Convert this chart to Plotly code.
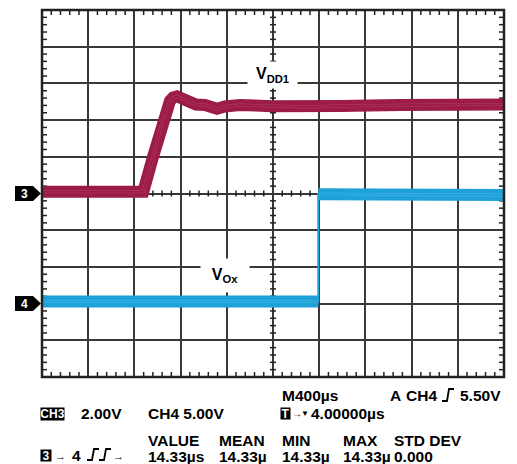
import plotly.graph_objects as go

# ---------------- data ----------------
# CH3 : V_DD1  (time in µs, value in volts)
ch3_t = [-2000, -1123, -1039, -955, -918, -892, -866, -831, -788, -736, -667, -589,
         -485, -416, -286, 0, 294, 580, 1100, 1620, 2000]
ch3_v = [0.1, 0.1, 1.99, 4.0, 4.66, 5.04, 5.23, 5.29, 5.18, 4.99, 4.85, 4.82,
         4.62, 4.74, 4.82, 4.76, 4.72, 4.77, 4.82, 4.85, 4.85]
# CH4 : V_Ox
ch4_t = [-2000, -1000, 0, 392, 392, 420, 1000, 2000]
ch4_v = [0.3, 0.3, 0.3, 0.3, 14.9, 14.9, 14.8, 14.8]

# scope settings
ch3_scale = 2.0      # V/div
ch4_scale = 5.0      # V/div
ch3_pos = 0.0        # div
ch4_pos = -3.0       # div
time_div = 400       # µs/div
n_xdiv = 10
n_ydiv = 10
n_minor = 5

# readout texts
row1 = [("M400µs", 281), ("A", 389), ("CH4", 405), ("5.50V", 459)]
row2_left = [("2.00V", 80), ("CH4 5.00V", 147)]
meas_heads = ["VALUE", "MEAN", "MIN", "MAX", "STD DEV"]
meas_vals = ["14.33µs", "14.33µ", "14.33µ", "14.33µ", "0.000"]
meas_x = [147, 218, 281, 342, 393]

# ---------------- geometry ----------------
W, H = 517, 464
PL, PR, PT, PB = 42, 504, 10, 377
xmin, xmax = -time_div * n_xdiv / 2, time_div * n_xdiv / 2
ymin, ymax = -n_ydiv / 2, n_ydiv / 2
ux = (xmax - xmin) / (PR - PL)   # data units per pixel
uy = (ymax - ymin) / (PB - PT)

RED = "#9c1c47"
RED_L = "rgba(205,105,140,0.45)"
BLUE = "#1da1d8"
BLUE_L = "rgba(130,205,240,0.5)"
GRID = "#383838"
FONT = "Liberation Sans"
FS = 15.5

def px(x):
    return (x - PL) / (PR - PL)

def py(y):
    return (PB - y) / (PB - PT)

fig = go.Figure()

# ---------------- minor ticks ----------------
tx, ty = [], []
xs_minor = [xmin + i * time_div / n_minor for i in range(n_xdiv * n_minor + 1) if i % n_minor]
ys_minor = [ymin + i / n_minor for i in range(n_ydiv * n_minor + 1) if i % n_minor]
L = 5
C = 3
for x in xs_minor:
    tx += [x, x, None, x, x, None, x, x, None]
    ty += [ymax, ymax - L * uy, None, ymin, ymin + L * uy, None, -C * uy, C * uy, None]
for y in ys_minor:
    tx += [xmin, xmin + L * ux, None, xmax, xmax - L * ux, None, -C * ux, C * ux, None]
    ty += [y, y, None, y, y, None, y, y, None]
fig.add_trace(go.Scatter(x=tx, y=ty, mode="lines", line=dict(color="#222", width=1.5),
                         hoverinfo="skip", showlegend=False))

# ---------------- traces ----------------
def band(t, v, scale, pos, color, light):
    y = [vv / scale + pos for vv in v]
    # thick noise band, broken at vertical jumps
    bt, by = [], []
    for i in range(len(t)):
        if i > 0 and t[i] == t[i - 1]:
            bt.append(None); by.append(None)
        bt.append(t[i]); by.append(y[i])
    fig.add_trace(go.Scatter(x=bt, y=by, mode="lines", line=dict(color=color, width=12),
                             hoverinfo="skip", showlegend=False))
    fig.add_trace(go.Scatter(x=bt, y=by, mode="lines", line=dict(color=light, width=3),
                             hoverinfo="skip", showlegend=False))
    fig.add_trace(go.Scatter(x=t, y=y, mode="lines", line=dict(color=color, width=2),
                             hoverinfo="skip", showlegend=False))

band(ch3_t, ch3_v, ch3_scale, ch3_pos, RED, RED_L)
band(ch4_t, ch4_v, ch4_scale, ch4_pos, BLUE, BLUE_L)

shapes = []
# border
shapes.append(dict(type="rect", xref="paper", yref="paper", x0=0, x1=1, y0=0, y1=1,
                   line=dict(color="#222", width=2.5), layer="above"))

# channel markers
def marker(ypix):
    return (f"M{px(15)},{py(ypix-7.5)} L{px(33)},{py(ypix-7.5)} L{px(41)},{py(ypix)} "
            f"L{px(33)},{py(ypix+7.5)} L{px(15)},{py(ypix+7.5)} Z")

y3 = PT + (ymax - ch3_pos) / uy
y4 = PT + (ymax - ch4_pos) / uy
for yy in (y3, y4):
    shapes.append(dict(type="path", xref="paper", yref="paper", path=marker(yy),
                       fillcolor="black", line=dict(width=0)))

# edge symbols
def edge(x0, ybot, ytop):
    return (f"M{px(x0)},{py(ybot)} L{px(x0+5)},{py(ybot)} L{px(x0+7)},{py(ytop)} "
            f"L{px(x0+12)},{py(ytop)}")

for (x0, yb, yt) in [(442, 401, 389), (87, 460, 449), (99, 460, 449)]:
    shapes.append(dict(type="path", xref="paper", yref="paper", path=edge(x0, yb, yt),
                       line=dict(color="black", width=1.8)))

anns = []

def ann(text, x, y, size=FS, color="black", bg=None, xanchor="left", w=None, h=None):
    d = dict(text=text, x=px(x), y=py(y), xref="paper", yref="paper",
             xanchor=xanchor, yanchor="middle", showarrow=False,
             font=dict(family=FONT, size=size, color=color, weight="bold"), borderpad=0)
    if bg:
        d["bgcolor"] = bg
    if w:
        d["width"] = w
    if h:
        d["height"] = h
    anns.append(d)

# signal labels
ann("V<sub>DD1</sub>", 272.5, 75, size=16, bg="white", xanchor="center", w=49, h=26)
ann("V<sub>Ox</sub>", 224.5, 275.5, size=16, bg="white", xanchor="center", w=48, h=33)

# channel marker numbers
ann("3", 24, y3, size=12, color="white", xanchor="center")
ann("4", 24, y4, size=12, color="white", xanchor="center")

# readouts
for txt, x in row1:
    ann(txt, x, 395)
ann("CH3", 52, 413.5, size=12, color="white", bg="black", xanchor="center", w=23, h=12)
for txt, x in row2_left:
    ann(txt, x, 413.5)
ann("T", 285, 413.5, size=12, color="white", bg="black", xanchor="center", w=9, h=11)
ann("→", 290.5, 413.5, size=10)
ann("▼", 300, 413.5, size=8)
ann("4.00000µs", 310, 413.5)
for txt, x in zip(meas_heads, meas_x):
    ann(txt, x, 440)
for txt, x in zip(meas_vals, meas_x):
    ann(txt, x, 456)
ann("3", 45.7, 455.7, size=12, color="white", bg="black", xanchor="center", w=10, h=11)
ann("→", 54, 455.7, size=11)
ann("4", 71, 455.7)
ann("→", 112, 455.7, size=11)

fig.update_layout(
    width=W, height=H,
    margin=dict(l=PL, r=W - PR, t=PT, b=H - PB, pad=0),
    paper_bgcolor="white", plot_bgcolor="white",
    shapes=shapes, annotations=anns, showlegend=False,
    xaxis=dict(range=[xmin, xmax], tick0=xmin, dtick=time_div, showgrid=True,
               gridcolor=GRID, gridwidth=2, zeroline=False, showticklabels=False,
               ticks="", showline=False, fixedrange=True),
    yaxis=dict(range=[ymin, ymax], tick0=ymin, dtick=1, showgrid=True,
               gridcolor=GRID, gridwidth=2, zeroline=False, showticklabels=False,
               ticks="", showline=False, fixedrange=True),
)

fig.write_html("out.html", config={"displayModeBar": False},
               post_script="document.body.style.margin='0';document.body.style.overflow='hidden';")
